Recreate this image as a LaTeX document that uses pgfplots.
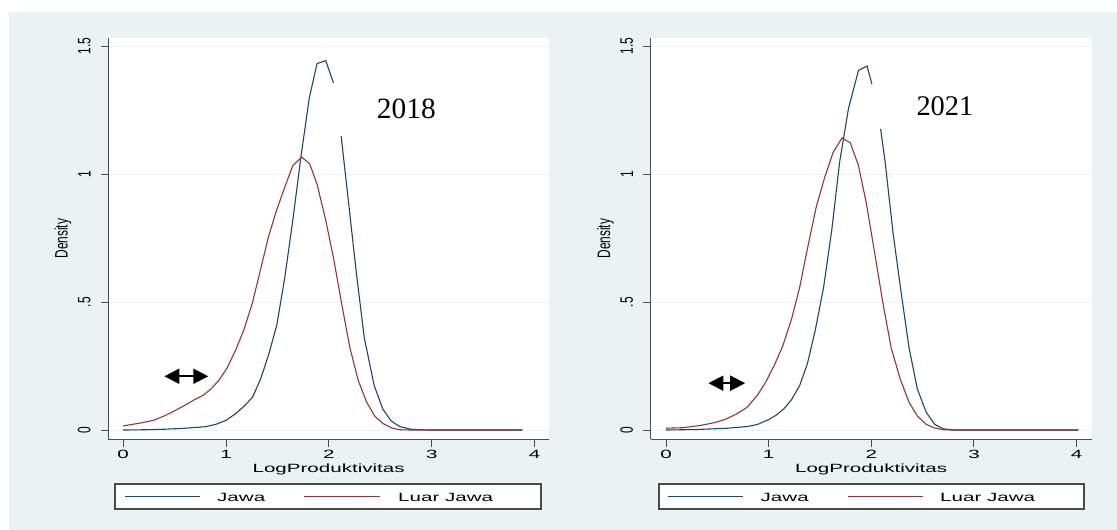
\documentclass[border=0pt]{standalone}
\usepackage{fontspec}
\setmainfont{Liberation Sans}
\newfontfamily\timesfont{Liberation Serif}
\usepackage{pgfplots}
\usepackage{pgfplotstable}
\pgfplotsset{compat=1.18}
\usetikzlibrary{arrows.meta}
\definecolor{bgc}{HTML}{EAF2F3}
\definecolor{jawa}{HTML}{1A476F}
\definecolor{luar}{HTML}{90353B}
\definecolor{axc}{HTML}{4A4A4A}
\newcommand\sx[1]{{\fontsize{12}{12}\selectfont\scalebox{1.72}[1]{#1}}}
\newcommand\sy[1]{{\fontsize{12}{12}\selectfont\scalebox{1}[1.5]{#1}}}

\pgfplotstableread{
x y
0 0
0.2 0.001
0.4 0.003
0.6 0.007
0.8 0.013
0.9 0.022
1.0 0.038
1.1 0.066
1.18 0.095
1.257 0.128
1.337 0.20
1.413 0.293
1.493 0.41
1.569 0.59
1.649 0.82
1.729 1.07
1.809 1.297
1.885 1.432
1.969 1.443
2.042 1.359
2.118 1.152
2.188 0.90
2.264 0.623
2.344 0.36
2.44 0.174
2.524 0.082
2.604 0.036
2.69 0.013
2.8 0.003
2.9 0.001
3.0 0
3.88 0
}\jawaA

\pgfplotstableread{
x y
0 0.016
0.19 0.029
0.295 0.038
0.4 0.055
0.5 0.075
0.61 0.099
0.69 0.118
0.774 0.135
0.85 0.159
0.93 0.194
1.007 0.24
1.094 0.313
1.174 0.392
1.257 0.498
1.337 0.63
1.413 0.756
1.493 0.861
1.569 0.947
1.649 1.033
1.736 1.066
1.813 1.04
1.885 0.96
1.969 0.82
2.049 0.663
2.125 0.491
2.205 0.32
2.285 0.194
2.368 0.108
2.448 0.053
2.528 0.025
2.611 0.008
2.69 0.001
2.8 0
3.88 0
}\luarA

\pgfplotstableread{
x y
0 0
0.3 0.002
0.6 0.007
0.8 0.014
0.892 0.022
0.997 0.04
1.073 0.058
1.146 0.082
1.222 0.118
1.302 0.174
1.378 0.26
1.455 0.392
1.535 0.557
1.615 0.782
1.691 1.046
1.778 1.257
1.875 1.405
1.958 1.422
2.003 1.356
2.09 1.178
2.135 1.046
2.212 0.769
2.288 0.544
2.368 0.32
2.448 0.161
2.535 0.069
2.618 0.022
2.698 0.005
2.8 0
4.017 0
}\jawaB

\pgfplotstableread{
x y
0 0.007
0.163 0.009
0.337 0.018
0.476 0.029
0.58 0.042
0.684 0.062
0.788 0.088
0.892 0.137
0.972 0.188
1.056 0.254
1.135 0.326
1.222 0.432
1.302 0.557
1.378 0.709
1.465 0.874
1.545 0.986
1.628 1.085
1.715 1.141
1.795 1.122
1.875 1.033
1.951 0.887
2.031 0.696
2.115 0.491
2.194 0.32
2.281 0.2
2.368 0.108
2.448 0.055
2.535 0.022
2.618 0.008
2.705 0.001
2.8 0
4.017 0
}\luarB

\tikzset{dblarrow/.style={{Triangle[length=15bp,width=15bp]}-{Triangle[length=15bp,width=15bp]}, line width=2bp, black}}

\pgfplotsset{stata/.style={
  scale only axis, width=440.8bp, height=401.6bp,
  ymin=-0.037, ymax=1.532,
  axis x line=bottom, axis y line=left,
  axis line style={-, draw=axc, line width=1.2bp},
  every outer x axis line/.append style={-},
  every outer y axis line/.append style={-},
  axis background/.style={fill=white},
  xtick={0,1,2,3,4}, xticklabels={\sx{0},\sx{1},\sx{2},\sx{3},\sx{4}},
  ytick={0,0.5,1,1.5}, yticklabels={\sy{0},\sy{.5},\sy{1},\sy{1.5}},
  tick align=outside, major tick length=7.5bp,
  tick style={draw=axc, line width=1bp},
  ymajorgrids, major grid style={draw=bgc, line width=0.9bp},
  yticklabel style={rotate=90, anchor=south, inner sep=0pt, yshift=10bp},
  xticklabel style={anchor=north, inner sep=0pt, yshift=-3bp},
  xlabel={\sx{LogProduktivitas}}, ylabel={\sy{Density}},
  every axis x label/.style={at={(axis description cs:0.5,-0.0745)}, anchor=center},
  every axis y label/.style={at={(axis description cs:-0.1025,0.5)}, anchor=center, rotate=90},
  jw/.style={color=jawa, line width=1.1bp, no marks},
  lj/.style={color=luar, line width=1.1bp, no marks},
}}

\begin{document}
\begin{tikzpicture}[x=1bp,y=1bp]
\path[use as bounding box] (0,0) rectangle (1117,530);
\fill[white] (0,0) rectangle (1117,530);
\fill[bgc] (9,0) rectangle (1117,518);

\begin{scope}[shift={(108.2bp,90.5bp)}]
\begin{axis}[stata, anchor=south west, at={(0pt,0pt)}, xmin=-0.146, xmax=4.14]
\addplot[jw] table[x=x,y=y] {\jawaA};
\addplot[lj] table[x=x,y=y] {\luarA};
\node[fill=white, inner sep=0pt, minimum width=160bp, minimum height=53bp,
      font=\timesfont\fontsize{29.5}{29.5}\selectfont] at (axis cs:2.753,1.253) {2018};
\draw[dblarrow] (axis cs:0.40,0.21) -- (axis cs:0.827,0.21);
\end{axis}
\end{scope}

\begin{scope}[shift={(650.7bp,90.5bp)}]
\begin{axis}[stata, anchor=south west, at={(0pt,0pt)}, xmin=-0.149, xmax=4.145]
\addplot[jw] table[x=x,y=y] {\jawaB};
\addplot[lj] table[x=x,y=y] {\luarB};
\node[fill=white, inner sep=0pt, minimum width=160bp, minimum height=45.5bp,
      font=\timesfont\fontsize{28.5}{28.5}\selectfont] at (axis cs:2.717,1.264) {2021};
\draw[dblarrow] (axis cs:0.413,0.183) -- (axis cs:0.771,0.183);
\end{axis}
\end{scope}

% legends
\begin{scope}[font=\fontsize{12}{12}\selectfont]
\draw[axc, line width=1.1bp, fill=white] (115,21) rectangle (541,46);
\draw[jawa, line width=1.1bp] (125,33.5) -- (200,33.5);
\node[anchor=base west, inner sep=0pt] at (217,28.3) {\sx{Jawa}};
\draw[luar, line width=1.1bp] (304,33.5) -- (380,33.5);
\node[anchor=base west, inner sep=0pt] at (398,28.3) {\sx{Luar Jawa}};

\draw[axc, line width=1.1bp, fill=white] (659,21) rectangle (1084,46);
\draw[jawa, line width=1.1bp] (668,33.5) -- (743,33.5);
\node[anchor=base west, inner sep=0pt] at (760.5,28.3) {\sx{Jawa}};
\draw[luar, line width=1.1bp] (847.5,33.5) -- (923,33.5);
\node[anchor=base west, inner sep=0pt] at (940,28.3) {\sx{Luar Jawa}};
\end{scope}
\end{tikzpicture}
\end{document}
